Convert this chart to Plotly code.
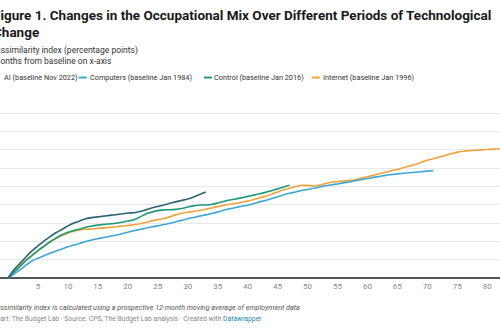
import plotly.graph_objects as go

# ---- data (months from baseline, dissimilarity index in percentage points) ----
ai_vals = [0, 0.45, 0.8, 1.15, 1.48, 1.75, 2.02, 2.25, 2.47, 2.65, 2.85, 3.0, 3.12, 3.24,
           3.3, 3.34, 3.38, 3.42, 3.46, 3.5, 3.55, 3.57, 3.63, 3.73, 3.83, 3.91, 3.99,
           4.08, 4.16, 4.24, 4.32, 4.43, 4.56, 4.7]
computers_vals = [0, 0.22, 0.44, 0.7, 0.93, 1.08, 1.22, 1.35, 1.47, 1.59, 1.71, 1.8, 1.9,
                  2.0, 2.08, 2.15, 2.21, 2.28, 2.34, 2.42, 2.5, 2.58, 2.65, 2.72, 2.79,
                  2.85, 2.92, 2.99, 3.07, 3.15, 3.24, 3.31, 3.38, 3.45, 3.52, 3.6, 3.7,
                  3.78, 3.85, 3.92, 3.98, 4.06, 4.16, 4.24, 4.34, 4.44, 4.55, 4.63, 4.7,
                  4.78, 4.84, 4.9, 4.97, 5.04, 5.09, 5.14, 5.2, 5.25, 5.31, 5.38, 5.44,
                  5.5, 5.55, 5.61, 5.65, 5.69, 5.72, 5.75, 5.78, 5.81, 5.84, 5.87]
control_vals = [0, 0.33, 0.62, 0.95, 1.22, 1.5, 1.74, 1.98, 2.18, 2.36, 2.5, 2.6, 2.68,
                2.77, 2.84, 2.89, 2.93, 2.96, 2.99, 3.05, 3.11, 3.18, 3.33, 3.5, 3.6,
                3.68, 3.72, 3.73, 3.75, 3.8, 3.88, 3.94, 3.99, 3.99, 4.02, 4.1, 4.18,
                4.26, 4.32, 4.38, 4.46, 4.53, 4.6, 4.68, 4.77, 4.87, 4.97, 5.07]
internet_vals = [0, 0.35, 0.66, 0.98, 1.24, 1.5, 1.73, 1.95, 2.15, 2.32, 2.45, 2.55, 2.62,
                 2.66, 2.68, 2.71, 2.74, 2.77, 2.8, 2.84, 2.87, 2.91, 2.96, 3.03, 3.12,
                 3.19, 3.25, 3.34, 3.45, 3.54, 3.59, 3.64, 3.69, 3.76, 3.83, 3.9, 3.97,
                 4.03, 4.08, 4.14, 4.2, 4.29, 4.38, 4.46, 4.58, 4.7, 4.82, 4.9, 5.0,
                 5.07, 5.06, 5.03, 5.07, 5.16, 5.23, 5.27, 5.3, 5.32, 5.38, 5.46, 5.53,
                 5.62, 5.7, 5.78, 5.86, 5.93, 6.02, 6.12, 6.2, 6.32, 6.44, 6.52, 6.61,
                 6.7, 6.79, 6.88, 6.93, 6.96, 6.98, 7.0, 7.02, 7.04, 7.05, 7.07, 7.08]

series_names = ["AI (baseline Nov 2022)", "Computers (baseline Jan 1984)",
                "Control (baseline Jan 2016)", "Internet (baseline Jan 1996)"]
x_tick_vals = list(range(0, 85, 5))
x_tick_text = ["0 Months"] + [str(v) for v in x_tick_vals[1:]]

colors = {"AI": "#2b6470", "Computers": "#3ea6d6", "Control": "#1f9a78", "Internet": "#f2a23a"}

W, H = 500, 330
PLOT_TOP, PLOT_BOT = 95, 280


def py(px):
    return (PLOT_BOT - px) / (PLOT_BOT - PLOT_TOP)


def pxx(px):
    return px / W


fig = go.Figure()
order = [("Internet", internet_vals), ("Computers", computers_vals),
         ("Control", control_vals), ("AI", ai_vals)]
for key, vals in order:
    fig.add_trace(go.Scatter(x=list(range(len(vals))), y=vals, mode="lines",
                             line=dict(color=colors[key], width=1.6, shape="spline", smoothing=0.6),
                             name=key, showlegend=False, hoverinfo="skip"))

font = "Roboto, Arial, sans-serif"
ann = []
# title
ann.append(dict(text="<b>Figure 1. Changes in the Occupational Mix Over Different Periods of Technological</b>",
                x=pxx(-9), y=py(15), xanchor="left", yanchor="middle",
                font=dict(family=font, size=13.5, color="#1a1a1a")))
ann.append(dict(text="<b>Change</b>", x=pxx(-9), y=py(32), xanchor="left", yanchor="middle",
                font=dict(family=font, size=13.5, color="#1a1a1a")))
ann.append(dict(text="Dissimilarity index (percentage points)", x=pxx(-9), y=py(50.5),
                xanchor="left", yanchor="middle", font=dict(family=font, size=8.5, color="#333333")))
ann.append(dict(text="Months from baseline on x-axis", x=pxx(-9), y=py(61),
                xanchor="left", yanchor="middle", font=dict(family=font, size=8.5, color="#333333")))
# legend
leg = [("AI", -9, 3.3), ("Computers", 78.7, 88.7), ("Control", 204, 213.3), ("Internet", 311.7, 321.7)]
shapes = []
for (key, mx, tx), name in zip(leg, series_names):
    shapes.append(dict(type="line", xref="paper", yref="paper", x0=pxx(mx), x1=pxx(mx + 8),
                       y0=py(77.5), y1=py(77.5), line=dict(color=colors[key], width=2)))
    ann.append(dict(text=name, x=pxx(tx - 1), y=py(77.5), xanchor="left", yanchor="middle",
                    font=dict(family=font, size=7.3, color="#333333")))
# notes
ann.append(dict(text="<i>Dissimilarity index is calculated using a prospective 12-month moving average of employment data</i>",
                x=pxx(-8), y=py(307), xanchor="left", yanchor="middle",
                font=dict(family=font, size=7.2, color="#555555")))
ann.append(dict(text="Chart: The Budget Lab · Source: CPS, The Budget Lab analysis · Created with "
                     "<span style='color:#1d86a8'>Datawrapper</span>",
                x=pxx(-10), y=py(318.5), xanchor="left", yanchor="middle",
                font=dict(family=font, size=6.8, color="#888888")))
for a in ann:
    a.update(xref="paper", yref="paper", showarrow=False)

fig.update_layout(
    width=W, height=H,
    margin=dict(l=0, r=0, t=PLOT_TOP, b=H - PLOT_BOT, pad=0, autoexpand=False),
    paper_bgcolor="white", plot_bgcolor="white",
    annotations=ann, shapes=shapes, showlegend=False,
    xaxis=dict(range=[-8 / 5.99, 492 / 5.99], tickvals=x_tick_vals, ticktext=x_tick_text,
               showgrid=False, zeroline=False, showline=False, ticks="",
               tickfont=dict(family=font, size=8, color="#888888")),
    yaxis=dict(range=[-2 / 18.3, 10], dtick=1, tick0=0, showticklabels=False,
               gridcolor="#e8e8e8", gridwidth=1, zeroline=True, zerolinecolor="#555555",
               zerolinewidth=1.5, showline=False, ticks=""),
)

fig.write_html("out.html")
